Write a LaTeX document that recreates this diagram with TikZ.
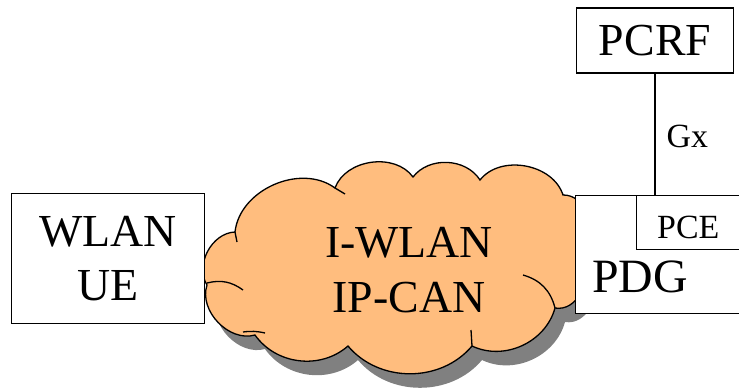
\documentclass[tikz,border=0pt]{standalone}
\usepackage{fontspec}
\setmainfont{Liberation Serif}
\tikzset{
    box/.style={draw, fill=white, line width=1.3bp, inner sep=0pt},
    bigtext/.style={font=\fontsize{46}{55}\selectfont},
    smalltext/.style={font=\fontsize{34}{36}\selectfont},
}
\definecolor{cloudfill}{RGB}{255,189,126}
\definecolor{cloudshadow}{RGB}{128,128,128}
\newcommand{\cloudoutline}{(235,232) to[bend left=60] (335,188) to[bend left=62] (413,177)
    to[bend left=55] (480,180) to[bend left=62] (563,195) to[bend left=95] (555,308)
    to[bend left=50] (472,346) to[bend left=50] (348,346) to[bend left=48] (255,335)
    to[bend left=62] (207,285) to[bend left=60] (235,232) -- cycle}
\begin{document}
\begin{tikzpicture}[x=1bp, y=-1bp]
    \useasboundingbox (0,0) rectangle (739,390);

    % the access network
    \fill[cloudshadow, shift={(10,14)}] \cloudoutline;
    \draw[fill=cloudfill, line width=1.3bp] \cloudoutline;
    \draw[line width=1.3bp] (207,283) to[bend left=25] (243,290);
    \draw[line width=1.3bp] (243,332) to[bend left=10] (265,333);
    \draw[line width=1.3bp] (523,275) to[bend left=30] (555,308);
    \draw[line width=1.3bp] (471,330) -- (472,346);
    \draw[line width=1.3bp] (235,232) -- (237,242);
    \draw[line width=1.3bp] (335,188) -- (345,194);
    \node[align=center, bigtext] (ipcan) at (409,270) {I-WLAN\\IP-CAN};

    % the end nodes
    \node[box, minimum width=194, minimum height=131, align=center, bigtext] (ue) at (108,258.5) {WLAN\\UE};
    \node[box, anchor=north west, minimum width=180, minimum height=118] (pdg) at (575,195) {};
    \node[font=\fontsize{48}{50}\selectfont, anchor=base west, inner sep=0pt] (pdgtext) at (592,292) {PDG};
    \node[box, anchor=north west, minimum width=115, minimum height=54] (pce) at (636,195) {};
    \node[smalltext, anchor=base west, inner sep=0pt] (pcetext) at (657,238) {PCE};

    % policy server
    \node[box, minimum width=158, minimum height=65, bigtext] (pcrf) at (655,40.5) {PCRF};
    \draw[line width=1.3bp] (pcrf.south) -- (pcrf.south |- pce.north)
        node[pos=0.61, anchor=base west, inner sep=0pt, xshift=11bp, smalltext] {Gx};
\end{tikzpicture}
\end{document}
